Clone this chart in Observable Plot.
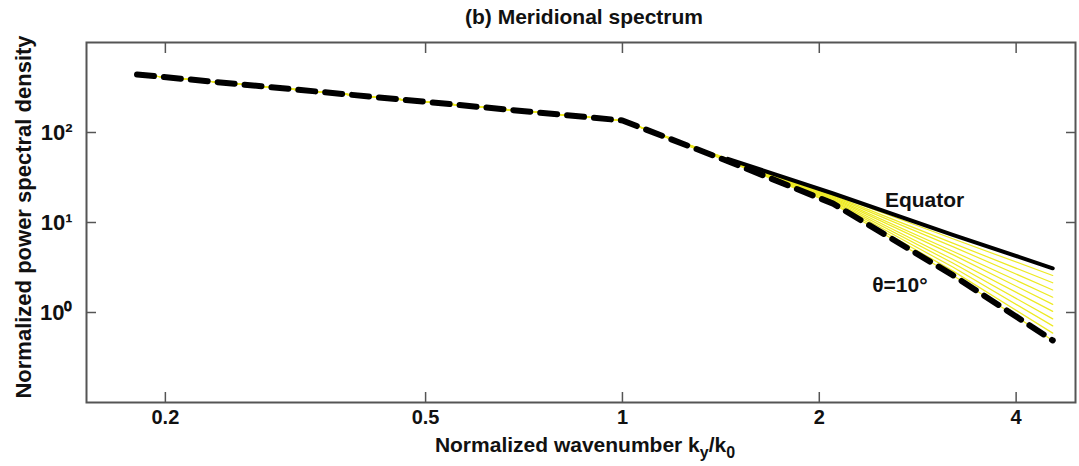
<!DOCTYPE html>
<html><head><meta charset="utf-8">
<script src="https://cdn.jsdelivr.net/npm/d3@7"></script>
<script src="https://cdn.jsdelivr.net/npm/@observablehq/plot@0.6"></script>
<style>body{margin:0;background:#fff}</style>
</head><body><div id="chart"></div>
<script>
// Normalized wavenumber k_y/k_0 sample points
const kx = [0.181, 1.0, 1.45, 2.1, 3.2, 4.55];
// Normalized power spectral density per latitude
const equator = [441, 136, 51.0, 21.0, 7.3, 3.1];
const theta1  = [441, 136, 50.7, 20.5, 6.6, 2.58];
const theta2  = [441, 136, 50.4, 19.9, 5.9, 2.14];
const theta3  = [441, 136, 50.0, 19.4, 5.4, 1.78];
const theta4  = [441, 136, 49.7, 18.9, 4.8, 1.48];
const theta5  = [441, 136, 49.4, 18.4, 4.4, 1.23];
const theta6  = [441, 136, 49.1, 18.0, 3.9, 1.03];
const theta7  = [441, 136, 48.8, 17.5, 3.55, 0.85];
const theta8  = [441, 136, 48.5, 17.1, 3.2, 0.71];
const theta9  = [441, 136, 48.2, 16.6, 2.9, 0.59];
const theta10 = [441, 136, 48.0, 16.2, 2.6, 0.49];

const seriesNames = ["Equator","θ=1°","θ=2°","θ=3°","θ=4°","θ=5°","θ=6°","θ=7°","θ=8°","θ=9°","θ=10°"];
const seriesValues = [equator, theta1, theta2, theta3, theta4, theta5, theta6, theta7, theta8, theta9, theta10];

const xTicks = [0.2, 0.5, 1, 2, 4];
const xTickLabels = ["0.2", "0.5", "1", "2", "4"];
const yTicks = [1, 10, 100];
const yTickLabels = ["10⁰", "10¹", "10²"];

const rows = seriesNames.flatMap((name, s) => kx.map((k, i) => ({series: name, k, p: seriesValues[s][i]})));
const eqBlack = kx.map((k, i) => ({k, p: equator[i]})).filter(d => d.k >= 1.45);
const dash10 = kx.map((k, i) => ({k, p: theta10[i]}));

const font = "'Liberation Sans', Arial, Helvetica, sans-serif";
const axisColor = "#555";

const plot = Plot.plot({
  width: 1079, height: 466,
  marginLeft: 86, marginRight: 4, marginTop: 42, marginBottom: 64,
  style: {fontFamily: font, background: "#fff", overflow: "visible", color: "#111"},
  x: {type: "log", domain: [0.1515, 4.93]},
  y: {type: "log", domain: [0.1, 1000]},
  marks: [
    Plot.line(rows, {x: "k", y: "p", z: "series", stroke: "#eeea22", strokeWidth: 1.2}),
    Plot.line(eqBlack, {x: "k", y: "p", stroke: "#000", strokeWidth: 4, strokeLinecap: "round"}),
    Plot.line(dash10, {x: "k", y: "p", stroke: "#000", strokeWidth: 6, strokeDasharray: "17,10"}),
    Plot.frame({stroke: axisColor, strokeWidth: 2}),
    // inward ticks on all four sides
    Plot.axisX({anchor: "bottom", ticks: xTicks, tickSize: -10, tickFormat: () => "", label: null, stroke: axisColor, strokeWidth: 1.5}),
    Plot.axisX({anchor: "top", ticks: xTicks, tickSize: -10, tickFormat: () => "", label: null, stroke: axisColor, strokeWidth: 1.5}),
    Plot.axisY({anchor: "left", ticks: yTicks, tickSize: -10, tickFormat: () => "", label: null, stroke: axisColor, strokeWidth: 1.5}),
    Plot.axisY({anchor: "right", ticks: yTicks, tickSize: -10, tickFormat: () => "", label: null, stroke: axisColor, strokeWidth: 1.5}),
    // tick labels
    Plot.axisX({anchor: "bottom", ticks: xTicks, tickSize: 0, tickPadding: 7, label: null,
      tickFormat: d => xTickLabels[xTicks.indexOf(d)], fontSize: 20, fontWeight: "bold", fill: "#111"}),
    Plot.axisY({anchor: "left", ticks: yTicks, tickSize: 0, tickPadding: 14, label: null,
      tickFormat: d => yTickLabels[yTicks.indexOf(d)], fontSize: 22, fontWeight: "bold", fill: "#111"}),
    // annotations
    Plot.text([{k: 2.52, p: 17.6, t: "Equator"}], {x: "k", y: "p", text: "t", textAnchor: "start", fontSize: 21, fontWeight: "bold", fill: "#111"}),
    Plot.text([{k: 2.41, p: 2.0, t: "θ=10°"}], {x: "k", y: "p", text: "t", textAnchor: "start", fontSize: 21, fontWeight: "bold", fill: "#111"})
  ]
});

const svg = d3.select(plot);
svg.append("text").attr("x", 584).attr("y", 24).attr("text-anchor", "middle")
  .attr("font-family", font).attr("font-size", 21).attr("font-weight", "bold").attr("fill", "#111")
  .text("(b) Meridional spectrum");
const xt = svg.append("text").attr("x", 585).attr("y", 452).attr("text-anchor", "middle")
  .attr("font-family", font).attr("font-size", 21).attr("font-weight", "bold").attr("fill", "#111");
xt.append("tspan").text("Normalized wavenumber k");
xt.append("tspan").attr("dy", 6).attr("font-size", 16).text("y");
xt.append("tspan").attr("dy", -6).text("/k");
xt.append("tspan").attr("dy", 6).attr("font-size", 16).text("0");
svg.append("text").attr("transform", "translate(31,217) rotate(-90)").attr("text-anchor", "middle")
  .attr("font-family", font).attr("font-size", 22).attr("font-weight", "bold").attr("fill", "#111")
  .text("Normalized power spectral density");

document.getElementById("chart").appendChild(plot);
</script>
</body></html>
